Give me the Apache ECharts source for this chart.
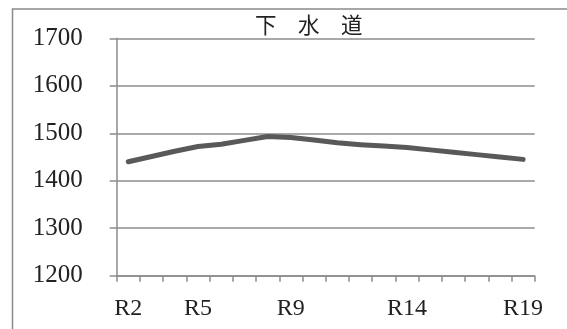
<!DOCTYPE html>
<html>
<head>
<meta charset="utf-8">
<script src="https://cdn.jsdelivr.net/npm/echarts@6/dist/echarts.min.js"></script>
<style>html,body{margin:0;padding:0;background:#fff;}#c{width:567px;height:329px;}</style>
</head>
<body>
<div id="c"></div>
<script>
var titleText = '下　水　道';
var categories = ['R2','R3','R4','R5','R6','R7','R8','R9','R10','R11','R12','R13','R14','R15','R16','R17','R18','R19'];
var values = [1440,1451,1462,1472,1477,1485,1493,1491,1486,1480,1476,1473,1470,1465,1460,1455,1450,1445];
var xTickLabels = ['R2','R5','R9','R14','R19'];
var yMin = 1200, yMax = 1700, yStep = 100;

var chart = echarts.init(document.getElementById('c'), null, {renderer:'canvas'});
var axisColor = '#8c8c8c';
chart.setOption({
  animation: false,
  backgroundColor: '#fff',
  title: {
    text: titleText, left: 250, top: 9,
    textStyle: {fontFamily: '"Noto Sans CJK JP"', fontSize: 21.5, fontWeight: 'normal', color: '#222'}
  },
  graphic: [{
    type: 'rect', shape: {x: 12.5, y: 9, width: 700, height: 500},
    style: {fill: 'none', stroke: '#8a8a8a', lineWidth: 1.5}, silent: true, z: -1
  }],
  grid: {left: 116.7, right: 32.3, top: 38.3, bottom: 53.3, containLabel: false},
  xAxis: {
    type: 'category', data: categories, boundaryGap: true,
    axisLine: {lineStyle: {color: axisColor, width: 1.5}},
    axisTick: {show: true, interval: 0, length: 6, lineStyle: {color: axisColor, width: 1.5}},
    axisLabel: {
      interval: function (i, v) { return xTickLabels.indexOf(v) >= 0; },
      fontFamily: '"Liberation Serif", serif', fontSize: 24, color: '#222', margin: 21
    },
    splitLine: {show: false}
  },
  yAxis: {
    type: 'value', min: yMin, max: yMax, interval: yStep,
    axisLine: {show: true, lineStyle: {color: axisColor, width: 1.5}},
    axisTick: {show: true, length: 7, lineStyle: {color: axisColor, width: 1.5}},
    axisLabel: {
      formatter: function (v) { return String(v); },
      fontFamily: '"Liberation Serif", serif', fontSize: 25, color: '#222', margin: 34
    },
    splitLine: {show: true, lineStyle: {color: axisColor, width: 1.5}}
  },
  series: [{
    type: 'line', data: values, symbol: 'none', smooth: false,
    lineStyle: {color: '#595959', width: 5, cap: 'round', join: 'round'}
  }]
});
</script>
</body>
</html>
